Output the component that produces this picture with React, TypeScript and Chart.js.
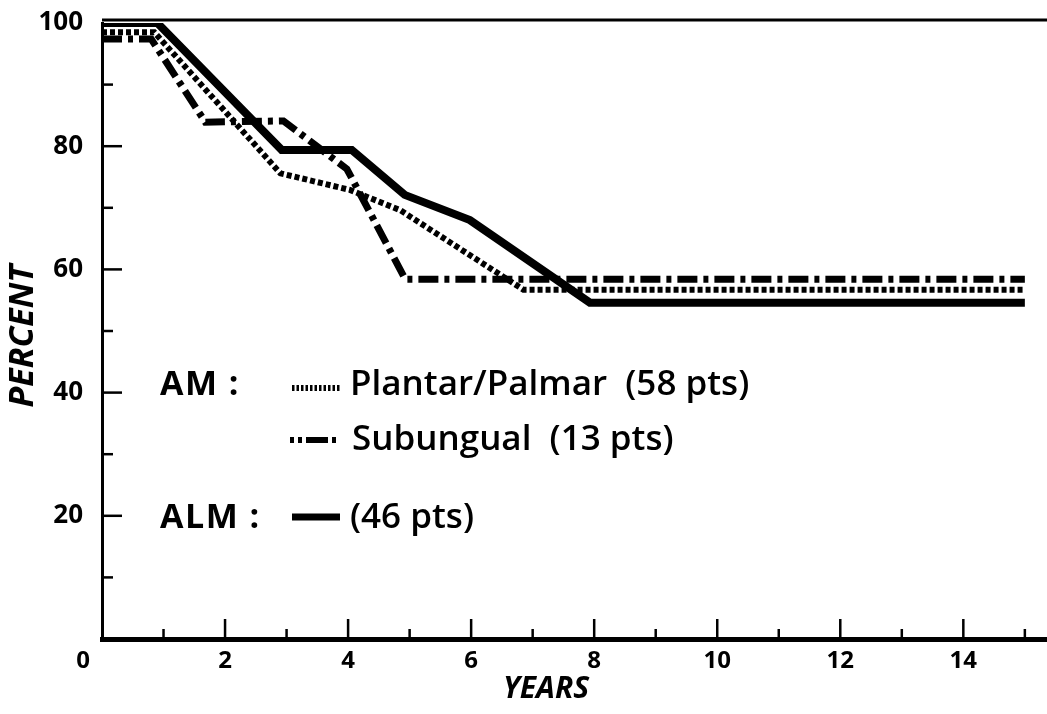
import React, { useEffect, useRef } from 'react';
import { Chart, registerables } from 'chart.js';

Chart.register(...registerables);

// ---- data ----
const plantarYears = [0, 0.85, 2.9, 4.03, 4.85, 6.85, 15];
const plantarPercent = [98.5, 98.5, 75.6, 72.9, 69.6, 56.7, 56.7];

const subungualYears = [0, 0.8, 1.68, 2.95, 3.98, 4.93, 15];
const subungualPercent = [97.4, 97.4, 83.9, 84.1, 76.3, 58.4, 58.4];

const almYears = [0, 0.9, 2.92, 4.06, 4.92, 5.98, 7.93, 15];
const almPercent = [100, 100, 79.4, 79.4, 72.1, 68.0, 54.6, 54.6];

const xLabelValues = [2, 4, 6, 8, 10, 12, 14];
const yLabelValues = [20, 40, 60, 80, 100];
const originLabel = '0';
const xTitle = 'YEARS';
const yTitle = 'PERCENT';
const groupLabels = ['AM :', 'ALM :'];
const seriesLabels = ['Plantar/Palmar  (58 pts)', 'Subungual  (13 pts)', '(46 pts)'];

const FONT = '"Open Sans", Lato, sans-serif';
const DOT_DASH = [5, 3];
const DASH_DOT = [20, 6, 5, 6];

const decorPlugin = {
  id: 'decor',
  afterDraw(chart: any) {
    const { ctx, chartArea } = chart;
    const xs = chart.scales.x;
    const ys = chart.scales.y;
    ctx.save();
    ctx.strokeStyle = '#000';
    ctx.fillStyle = '#000';
    // top frame line
    ctx.lineWidth = 3;
    ctx.beginPath();
    ctx.moveTo(chartArea.left, chartArea.top - 3);
    ctx.lineTo(chart.width, chartArea.top - 3);
    ctx.stroke();
    // x ticks (inward)
    ctx.lineWidth = 2.5;
    for (let v = 1; v <= 15; v++) {
      const px = xs.getPixelForValue(v);
      const len = v % 2 === 0 ? 20 : 10;
      ctx.beginPath();
      ctx.moveTo(px, chartArea.bottom);
      ctx.lineTo(px, chartArea.bottom - len);
      ctx.stroke();
    }
    // y ticks (inward)
    for (let v = 10; v < 100; v += 10) {
      const py = ys.getPixelForValue(v);
      const len = v % 20 === 0 ? 20 : 11;
      ctx.beginPath();
      ctx.moveTo(chartArea.left, py);
      ctx.lineTo(chartArea.left + len, py);
      ctx.stroke();
    }
    // origin label
    ctx.font = `bold 24px ${FONT}`;
    ctx.textAlign = 'center';
    ctx.textBaseline = 'middle';
    ctx.fillText(originLabel, xs.getPixelForValue(0) - 19, 661);
    // axis titles
    ctx.font = `italic bold 30px ${FONT}`;
    ctx.fillText(xTitle, 546, 689);
    ctx.save();
    ctx.translate(23, 336);
    ctx.rotate(-Math.PI / 2);
    ctx.font = `italic bold 34px ${FONT}`;
    ctx.fillText(yTitle, 0, 0);
    ctx.restore();

    // legend
    ctx.textAlign = 'left';
    ctx.font = `bold 34px ${FONT}`;
    (ctx as any).letterSpacing = '1.5px';
    ctx.fillText(groupLabels[0], 160, 385);
    ctx.fillText(groupLabels[1], 160, 518);
    (ctx as any).letterSpacing = '0px';
    ctx.font = `600 35px ${FONT}`;
    ctx.fillText(seriesLabels[0], 350, 385);
    ctx.fillText(seriesLabels[1], 352, 440);
    ctx.fillText(seriesLabels[2], 350, 518);
    // samples
    ctx.lineCap = 'butt';
    ctx.lineWidth = 6;
    ctx.setLineDash([2.5, 2]);
    ctx.beginPath();
    ctx.moveTo(292, 388);
    ctx.lineTo(340, 388);
    ctx.stroke();
    ctx.setLineDash([4, 4, 4, 4, 22, 4, 4, 10]);
    ctx.beginPath();
    ctx.moveTo(290, 440);
    ctx.lineTo(346, 440);
    ctx.stroke();
    ctx.setLineDash([]);
    ctx.lineWidth = 7;
    ctx.beginPath();
    ctx.moveTo(292, 517);
    ctx.lineTo(340, 517);
    ctx.stroke();
    ctx.restore();
  },
};

function toPoints(xs: number[], ys: number[]) {
  return xs.map((x, i) => ({ x, y: ys[i] }));
}

export default function App() {
  const ref = useRef<HTMLCanvasElement | null>(null);
  useEffect(() => {
    document.body.style.margin = '0';
    const canvas = ref.current!;
    const chart = new Chart(canvas, {
      type: 'line',
      data: {
        datasets: [
          {
            label: 'Plantar/Palmar',
            data: toPoints(plantarYears, plantarPercent),
            borderColor: '#000',
            borderWidth: 6,
            borderDash: DOT_DASH,
            borderCapStyle: 'butt',
            borderJoinStyle: 'miter',
            pointRadius: 0,
            tension: 0,
            fill: false,
          },
          {
            label: 'Subungual',
            data: toPoints(subungualYears, subungualPercent),
            borderColor: '#000',
            borderWidth: 7,
            borderDash: DASH_DOT,
            borderCapStyle: 'butt',
            borderJoinStyle: 'miter',
            pointRadius: 0,
            tension: 0,
            fill: false,
          },
          {
            label: 'ALM',
            data: toPoints(almYears, almPercent),
            borderColor: '#000',
            borderWidth: 8,
            borderCapStyle: 'butt',
            borderJoinStyle: 'miter',
            pointRadius: 0,
            tension: 0,
            fill: false,
          },
        ] as any,
      },
      options: {
        animation: false,
        responsive: false,
        maintainAspectRatio: false,
        events: [],
        layout: { autoPadding: false, padding: { top: 23, right: 0, left: 0, bottom: 0 } },
        plugins: { legend: { display: false }, tooltip: { enabled: false } },
        scales: {
          x: {
            type: 'linear',
            min: 0,
            max: 15.36,
            grid: { display: true, drawOnChartArea: false, drawTicks: false, color: 'rgba(0,0,0,0)' },
            border: { display: true, width: 5, color: '#000' },
            ticks: {
              stepSize: 1,
              autoSkip: false,
              maxRotation: 0,
              padding: 8,
              color: '#000',
              font: { family: FONT, size: 24, weight: 'bold' },
              callback: (v: any) => (xLabelValues.includes(Number(v)) ? String(v) : ''),
            },
            afterFit: (s: any) => {
              s.height = 75;
              s.paddingLeft = 0;
              s.paddingRight = 0;
            },
          },
          y: {
            type: 'linear',
            min: 0,
            max: 100,
            grid: { display: true, drawOnChartArea: false, drawTicks: false, color: 'rgba(0,0,0,0)' },
            border: { display: true, width: 3, color: '#000' },
            ticks: {
              stepSize: 10,
              autoSkip: false,
              padding: 19,
              color: '#000',
              font: { family: FONT, size: 26, weight: 'bold' },
              callback: (v: any) => (yLabelValues.includes(Number(v)) ? String(v) : ''),
            },
            afterFit: (s: any) => {
              s.width = 102;
              s.paddingTop = 0;
              s.paddingBottom = 0;
            },
          },
        },
      },
      plugins: [decorPlugin],
    });
    return () => chart.destroy();
  }, []);
  return (
    <div style={{ width: 1047, height: 714, background: '#fff' }}>
      <canvas ref={ref} width={1047} height={714} />
    </div>
  );
}
